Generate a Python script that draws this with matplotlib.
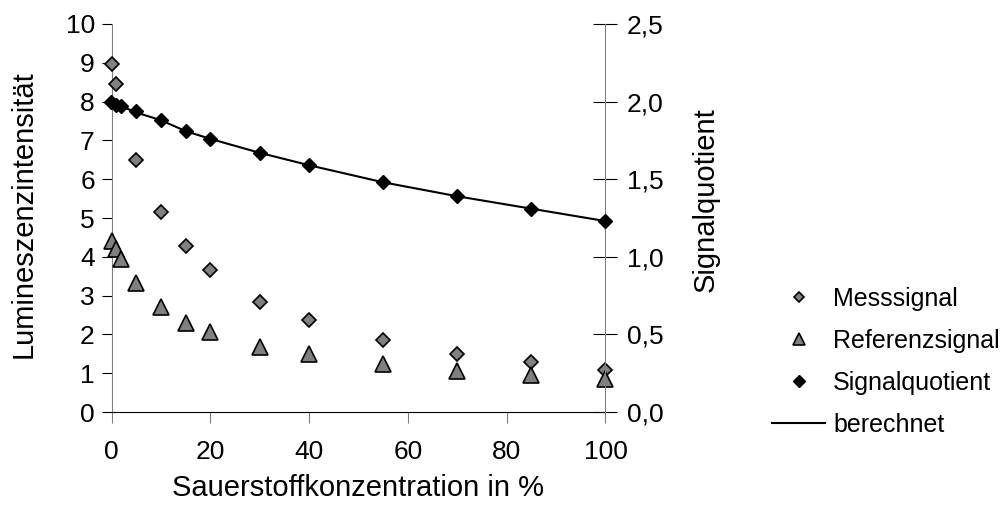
import matplotlib
matplotlib.use("Agg")
import matplotlib.pyplot as plt
from matplotlib.ticker import FuncFormatter, MultipleLocator

plt.rcParams['font.family'] = ['Liberation Sans', 'DejaVu Sans']

# Sauerstoffkonzentration in %
o2 = [0, 1, 2, 5, 10, 15, 20, 30, 40, 55, 70, 85, 100]
o2_mess = [0, 1, 5, 10, 15, 20, 30, 40, 55, 70, 85, 100]

# Lumineszenzintensitaet (linke Achse)
messsignal = [8.97, 8.45, 6.49, 5.15, 4.27, 3.66, 2.83, 2.37, 1.86, 1.49, 1.29, 1.09]
referenzsignal = [4.41, 4.19, 3.94, 3.33, 2.71, 2.30, 2.05, 1.68, 1.49, 1.23, 1.06, 0.95, 0.84]

# Signalquotient (rechte Achse)
quotient = [2.00, 1.98, 1.97, 1.94, 1.88, 1.81, 1.76, 1.67, 1.59, 1.48, 1.39, 1.31, 1.23]
berechnet = [2.01, 1.99, 1.97, 1.93, 1.88, 1.81, 1.76, 1.67, 1.59, 1.48, 1.39, 1.31, 1.23]

grey = '#808080'
W, H = 1002, 509

fig = plt.figure(figsize=(W / 100, H / 100), dpi=100)
ax = fig.add_axes([111.5 / W, 1 - 412 / H, 494 / W, 388 / H])
ax2 = ax.twinx()

ax.plot(o2_mess, messsignal, linestyle='none', marker='D', ms=7, mfc=grey,
        mec='black', mew=1.2, clip_on=False, zorder=5, label='Messsignal')
ax.plot(o2, referenzsignal, linestyle='none', marker='^', ms=11, mfc=grey,
        mec='black', mew=1.2, clip_on=False, zorder=5, label='Referenzsignal')
l1, = ax2.plot(o2, berechnet, color='black', lw=1.5, label='berechnet', zorder=4)
l2, = ax2.plot(o2, quotient, linestyle='none', marker='D', ms=7.5, mfc='black',
               mec='black', clip_on=False, zorder=5, label='Signalquotient')

ax.set_xlim(0, 100)
ax.set_ylim(0, 10)
ax2.set_ylim(0, 2.5)
ax.xaxis.set_major_locator(MultipleLocator(20))
ax.yaxis.set_major_locator(MultipleLocator(1))
ax2.yaxis.set_major_locator(MultipleLocator(0.5))
ax2.yaxis.set_major_formatter(FuncFormatter(lambda v, p: f'{v:.1f}'.replace('.', ',')))

for a in (ax, ax2):
    a.spines['top'].set_visible(False)
ax.spines['right'].set_visible(False)
ax.spines['left'].set_color(grey)
ax2.spines['left'].set_visible(False)
ax2.spines['bottom'].set_visible(False)
ax2.spines['right'].set_color(grey)
ax.spines['bottom'].set_color('black')

ax.tick_params(axis='y', direction='out', length=7, color='black', labelsize=19, pad=5)
ax.tick_params(axis='x', direction='out', length=8, color=grey, labelsize=19, pad=12)
ax2.tick_params(axis='y', direction='inout', length=17, color='black', labelsize=19, pad=7)

fig.text(358.5 / W, 1 - 488 / H, 'Sauerstoffkonzentration in %', fontsize=21,
         ha='center', va='center')
fig.text(24 / W, 1 - 214 / H, 'Lumineszenzintensität', fontsize=21, rotation=90,
         ha='center', va='center')
fig.text(706 / W, 1 - 200 / H, 'Signalquotient', fontsize=21, rotation=90,
         ha='center', va='center')

h1, lab1 = ax.get_legend_handles_labels()
handles = h1 + [l2, l1]
labels = lab1 + ['Signalquotient', 'berechnet']
fig.legend(handles, labels, loc='center left', bbox_to_anchor=(772 / W, 1 - 362 / H),
           frameon=False, handlelength=2.12, handletextpad=0.32, markerscale=0.75,
           labelspacing=0.72, borderpad=0, borderaxespad=0, fontsize=18)

fig.savefig('out.png', dpi=100)
